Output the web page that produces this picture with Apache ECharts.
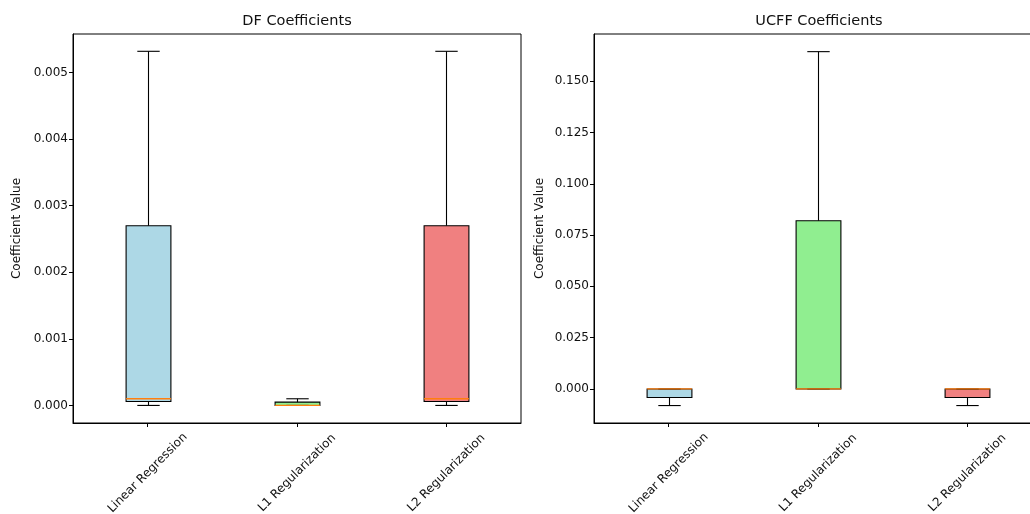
<!DOCTYPE html>
<html>
<head>
<meta charset="utf-8">
<script src="https://cdn.jsdelivr.net/npm/echarts@6/dist/echarts.min.js"></script>
<style>
html,body{margin:0;padding:0;background:#fff;}
#chart{width:1030px;height:514px;}
</style>
</head>
<body>
<div id="chart"></div>
<script>
// ---- data ----
const categories = ['Linear Regression', 'L1 Regularization', 'L2 Regularization'];
// [min, q1, median, q3, max]
const dfStats = [
  [0, 0.00006, 0.0001, 0.0027, 0.00532],
  [0, 0, 0, 0.00005, 0.0001],
  [0, 0.00006, 0.0001, 0.0027, 0.00532]
];
const ucffStats = [
  [-0.0081, -0.0042, 0, 0, 0],
  [0, 0, 0, 0.082, 0.1644],
  [-0.0081, -0.0042, 0, 0, 0]
];
const dfTicks = [0, 0.001, 0.002, 0.003, 0.004, 0.005];
const ucffTicks = [0, 0.025, 0.05, 0.075, 0.1, 0.125, 0.15];
const titles = ['DF Coefficients', 'UCFF Coefficients'];
const yName = 'Coefficient Value';

// ---- styles ----
const boxColors = ['#ADD8E6', '#90EE90', '#F08080'];
const medianColor = '#FF7F0E';
const FONT = 'DejaVu Sans';
const TXT = '#111';

function renderBox(params, api) {
  const idx = api.value(0);
  const band = api.size([1, 0])[0];
  const bw = band * 0.3, cw = band * 0.15;
  const pMin = api.coord([idx, api.value(1)]);
  const pQ1 = api.coord([idx, api.value(2)]);
  const pMed = api.coord([idx, api.value(3)]);
  const pQ3 = api.coord([idx, api.value(4)]);
  const pMax = api.coord([idx, api.value(5)]);
  const x = Math.round(pMed[0]) + 0.5;
  const lineStyle = { stroke: '#000', lineWidth: 1.1, fill: null };
  return {
    type: 'group',
    children: [
      { type: 'rect', shape: { x: x - bw / 2, y: pQ3[1], width: bw, height: Math.max(pQ1[1] - pQ3[1], 0) },
        style: { fill: boxColors[idx], stroke: '#000', lineWidth: 1.1 } },
      { type: 'line', shape: { x1: x, y1: pQ1[1], x2: x, y2: pMin[1] }, style: lineStyle },
      { type: 'line', shape: { x1: x, y1: pQ3[1], x2: x, y2: pMax[1] }, style: lineStyle },
      { type: 'line', shape: { x1: x - cw / 2, y1: pMin[1], x2: x + cw / 2, y2: pMin[1] }, style: lineStyle },
      { type: 'line', shape: { x1: x - cw / 2, y1: pMax[1], x2: x + cw / 2, y2: pMax[1] }, style: lineStyle },
      { type: 'line', shape: { x1: x - bw / 2, y1: pMed[1], x2: x + bw / 2, y2: pMed[1] },
        style: { stroke: medianColor, lineWidth: 1.3, fill: null } }
    ]
  };
}

function toData(stats) {
  return stats.map((s, i) => [i].concat(s));
}

const gridBase = { top: 34, height: 389, width: 448, show: true, borderColor: '#000', borderWidth: 1,
  backgroundColor: 'transparent', containLabel: false, outerBoundsMode: 'none' };

function xAxis(gi) {
  return {
    type: 'category', gridIndex: gi, data: categories, boundaryGap: true,
    axisLine: { show: true, onZero: false, lineStyle: { color: '#000', width: 1 } },
    axisTick: { show: true, inside: false, alignWithLabel: true, length: 4, lineStyle: { color: '#000' } },
    axisLabel: { interval: 0, rotate: 45, align: 'center', verticalAlign: 'middle', margin: 50,
      fontFamily: FONT, fontSize: 12, color: TXT },
    splitLine: { show: false }
  };
}
function yAxis(gi, min, max, ticks, gap) {
  return {
    type: 'value', gridIndex: gi, min: min, max: max,
    name: yName, nameLocation: 'middle', nameRotate: 90, nameGap: gap,
    nameTextStyle: { fontFamily: FONT, fontSize: 12, color: TXT },
    axisLine: { show: true, onZero: false, lineStyle: { color: '#000', width: 1 } },
    axisTick: { show: true, inside: false, length: 4, lineStyle: { color: '#000' }, customValues: ticks },
    axisLabel: { fontFamily: FONT, fontSize: 12, color: TXT, margin: 5, customValues: ticks,
      formatter: v => v.toFixed(3) },
    splitLine: { show: false }
  };
}

const chart = echarts.init(document.getElementById('chart'), null, { renderer: 'canvas' });
chart.setOption({
  animation: false,
  backgroundColor: '#fff',
  title: [
    { text: titles[0], left: 292, top: 9, textAlign: 'center',
      textStyle: { fontFamily: FONT, fontSize: 14.5, fontWeight: 'normal', color: TXT } },
    { text: titles[1], left: 814, top: 9, textAlign: 'center',
      textStyle: { fontFamily: FONT, fontSize: 14.5, fontWeight: 'normal', color: TXT } }
  ],
  grid: [
    Object.assign({ left: 73 }, gridBase),
    Object.assign({ left: 594 }, gridBase)
  ],
  xAxis: [xAxis(0), xAxis(1)],
  yAxis: [
    yAxis(0, -0.000264, 0.00558, dfTicks, 50),
    yAxis(1, -0.0166, 0.173, ucffTicks, 48)
  ],
  series: [
    { type: 'custom', xAxisIndex: 0, yAxisIndex: 0, renderItem: renderBox,
      encode: { x: 0, y: [1, 2, 3, 4, 5] }, data: toData(dfStats), clip: false },
    { type: 'custom', xAxisIndex: 1, yAxisIndex: 1, renderItem: renderBox,
      encode: { x: 0, y: [1, 2, 3, 4, 5] }, data: toData(ucffStats), clip: false }
  ]
});
</script>
</body>
</html>
